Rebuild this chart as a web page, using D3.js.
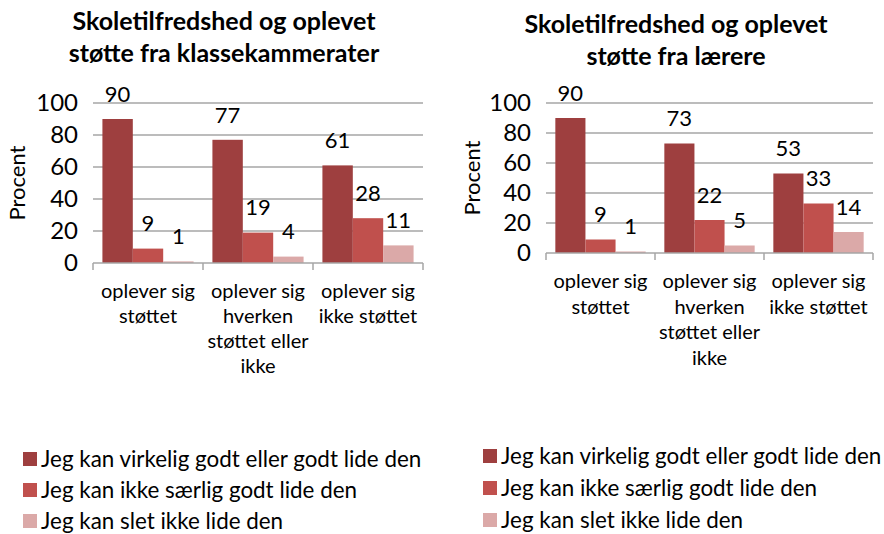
<!DOCTYPE html>
<html>
<head>
<meta charset="utf-8">
<script src="https://cdn.jsdelivr.net/npm/d3@7"></script>
<style>
  body { margin: 0; background: #fff; }
  svg { font-family: Lato, "Open Sans", sans-serif; }
  .grid line { stroke: #a6a6a6; stroke-width: 1.5px; }
  .axis path, .axis line { stroke: #a6a6a6; stroke-width: 1.5px; }
</style>
</head>
<body>
<div id="chart"></div>
<script>
// categories and series
let categories = ["oplever sig støttet", "oplever sig hverken støttet eller ikke", "oplever sig ikke støttet"];
let categoryLines = [
    ["oplever sig", "støttet"],
    ["oplever sig", "hverken", "støttet eller", "ikke"],
    ["oplever sig", "ikke støttet"]
];
let seriesNames = ["Jeg kan virkelig godt eller godt lide den", "Jeg kan ikke særlig godt lide den", "Jeg kan slet ikke lide den"];
let seriesColors = ["#9e3f3f", "#c0504d", "#dba9a8"];

// values per category, series order
let classmatesValues = [[90, 9, 1], [77, 19, 4], [61, 28, 11]];
let teachersValues = [[90, 9, 1], [73, 22, 5], [53, 33, 14]];

let yTicks = [0, 20, 40, 60, 80, 100];

let svg = d3.select("#chart").append("svg")
    .attr("width", 884)
    .attr("height", 534);

function drawPanel(opts) {
    let g = svg.append("g");

    let xScale = d3.scaleBand()
        .domain(categories)
        .range([opts.left, opts.right])
        .padding(0);

    let xInner = d3.scaleBand()
        .domain(seriesNames)
        .range([0, xScale.bandwidth()])
        .paddingInner(0)
        .paddingOuter(0.31);

    let yScale = d3.scaleLinear()
        .domain([0, 100])
        .range([opts.bottom, opts.top]);

    // title
    g.append("text")
        .attr("x", opts.titleX)
        .attr("y", opts.titleY)
        .attr("text-anchor", "middle")
        .style("font-size", "25px")
        .style("font-weight", "bold")
        .selectAll("tspan")
        .data(opts.title)
        .enter().append("tspan")
        .attr("x", opts.titleX)
        .attr("dy", (d, i) => i === 0 ? 0 : 32)
        .text(d => d);

    // gridlines
    g.append("g")
        .attr("class", "grid")
        .selectAll("line")
        .data(yTicks.slice(1))
        .enter().append("line")
        .attr("x1", opts.left)
        .attr("x2", opts.right)
        .attr("y1", d => yScale(d))
        .attr("y2", d => yScale(d));

    // y tick labels
    g.append("g")
        .selectAll("text")
        .data(yTicks)
        .enter().append("text")
        .attr("x", opts.left - 15)
        .attr("y", d => yScale(d))
        .attr("dy", "0.35em")
        .attr("text-anchor", "end")
        .style("font-size", "24px")
        .text(d => d);

    // y axis title
    g.append("text")
        .attr("transform", `translate(${opts.procentX},${(opts.top + opts.bottom) / 2}) rotate(-90)`)
        .attr("text-anchor", "middle")
        .attr("dy", "0.35em")
        .style("font-size", "22px")
        .text("Procent");

    // bars
    let groups = g.selectAll(".cat")
        .data(opts.values)
        .enter().append("g")
        .attr("class", "cat")
        .attr("transform", (d, i) => `translate(${xScale(categories[i])},0)`);

    groups.selectAll("rect")
        .data(d => d.map((v, j) => ({ v: v, s: seriesNames[j], c: seriesColors[j] })))
        .enter().append("rect")
        .attr("x", d => xInner(d.s))
        .attr("width", xInner.bandwidth())
        .attr("y", d => yScale(d.v))
        .attr("height", d => opts.bottom - yScale(d.v))
        .attr("fill", d => d.c);

    groups.selectAll(".val")
        .data(d => d.map((v, j) => ({ v: v, s: seriesNames[j] })))
        .enter().append("text")
        .attr("class", "val")
        .attr("x", d => xInner(d.s) + xInner.bandwidth() / 2)
        .attr("y", d => yScale(d.v) - 25)
        .attr("dy", "0.35em")
        .attr("text-anchor", "middle")
        .style("font-size", "22px")
        .text(d => d.v);

    // x axis with boundary ticks
    let axis = g.append("g").attr("class", "axis");
    axis.append("line")
        .attr("x1", opts.left)
        .attr("x2", opts.right)
        .attr("y1", opts.bottom)
        .attr("y2", opts.bottom);
    let bounds = categories.map(c => xScale(c)).concat([opts.right]);
    axis.selectAll(".tick")
        .data(bounds)
        .enter().append("line")
        .attr("class", "tick")
        .attr("x1", d => d)
        .attr("x2", d => d)
        .attr("y1", opts.bottom)
        .attr("y2", opts.bottom + 7);

    // category labels
    g.selectAll(".catlabel")
        .data(categoryLines)
        .enter().append("text")
        .attr("class", "catlabel")
        .attr("text-anchor", "middle")
        .style("font-size", "20px")
        .each(function(lines, i) {
            let cx = xScale(categories[i]) + xScale.bandwidth() / 2;
            d3.select(this).selectAll("tspan")
                .data(lines)
                .enter().append("tspan")
                .attr("x", cx)
                .attr("y", (d, k) => opts.catY + k * opts.catStep)
                .text(d => d);
        });

    // legend
    let legend = g.append("g");
    seriesNames.forEach((name, j) => {
        let cy = opts.legendY + j * opts.legendStep;
        legend.append("rect")
            .attr("x", opts.legendX)
            .attr("y", cy - 7)
            .attr("width", 14)
            .attr("height", 14)
            .attr("fill", seriesColors[j]);
        legend.append("text")
            .attr("x", opts.legendX + 18)
            .attr("y", cy)
            .attr("dy", "0.35em")
            .style("font-size", "22.4px")
            .text(name);
    });
}

drawPanel({
    title: ["Skoletilfredshed og oplevet", "støtte fra klassekammerater"],
    titleX: 224, titleY: 30,
    values: classmatesValues,
    left: 93, right: 423, top: 103, bottom: 263,
    procentX: 17,
    catY: 298, catStep: 25,
    legendX: 23, legendY: 459, legendStep: 31
});

drawPanel({
    title: ["Skoletilfredshed og oplevet", "støtte fra lærere"],
    titleX: 676, titleY: 33,
    values: teachersValues,
    left: 546, right: 873, top: 103, bottom: 253,
    procentX: 472,
    catY: 288, catStep: 25.5,
    legendX: 483, legendY: 456, legendStep: 32
});
</script>
</body>
</html>
